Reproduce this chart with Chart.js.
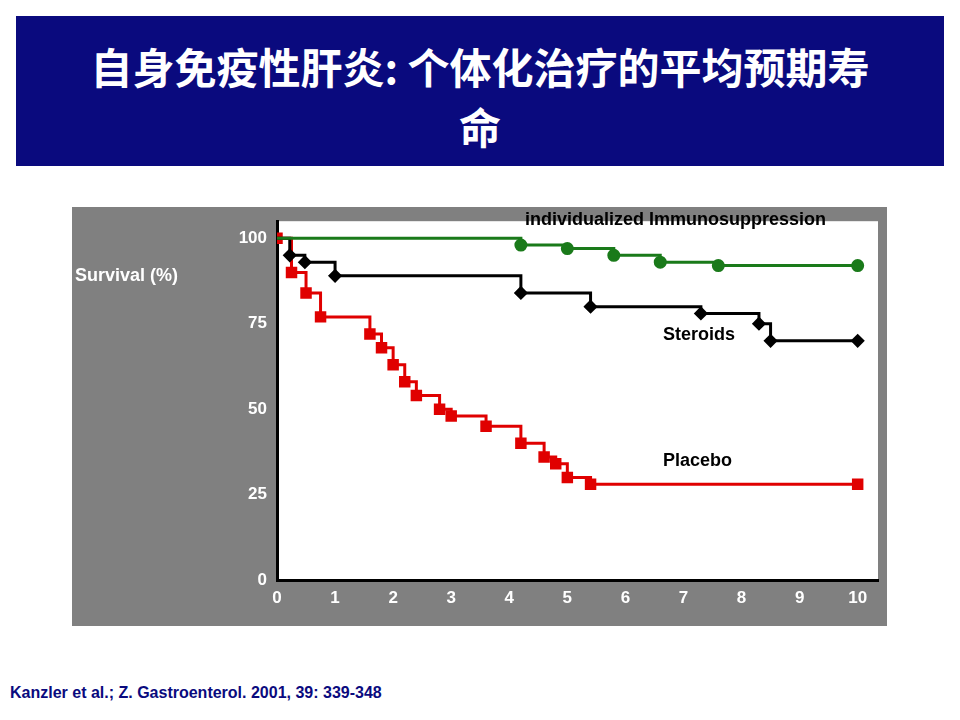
<!DOCTYPE html>
<html><head><meta charset="utf-8">
<script src="https://cdn.jsdelivr.net/npm/chart.js@4"></script>
<style>
body{margin:0;width:960px;height:720px;background:#fff;position:relative;font-family:Arial,"Liberation Sans",sans-serif}
#title{position:absolute;left:16px;top:16px;width:928px;height:150px;background:#0a0a7e;color:#fff;font:bold 42px "Noto Sans CJK SC",sans-serif;text-align:center;line-height:60px;padding-top:20px;box-sizing:border-box}
#box{position:absolute;left:72px;top:207px;width:815px;height:419px}
#cite{position:absolute;left:10px;top:684px;color:#0a0a7e;font:bold 16px Arial,"Liberation Sans",sans-serif}
</style></head><body>
<div id="title">自身免疫性肝炎: 个体化治疗的平均预期寿<br>命</div>
<div id="box"><canvas id="c" width="815" height="419"></canvas></div>
<div id="cite">Kanzler et al.; Z. Gastroenterol. 2001, 39: 339-348</div>
<script>
// individualized immunosuppression
const immX = [0, 4.2, 5, 5.8, 6.6, 7.6, 10];
const immY = [100, 98, 97, 95, 93, 92, 92];
// steroids
const sterX = [0, 0.22, 0.48, 1, 4.2, 5.4, 7.3, 8.3, 8.5, 10];
const sterY = [100, 95, 93, 89, 84, 80, 78, 75, 70, 70];
// placebo
const placX = [0, 0.25, 0.5, 0.75, 1.6, 1.8, 2, 2.2, 2.4, 2.8, 3, 3.6, 4.2, 4.6, 4.8, 5, 5.4, 10];
const placY = [100, 90, 84, 77, 72, 68, 63, 58, 54, 50, 48, 45, 40, 36, 34, 30, 28, 28];
const yTicks = [0, 25, 50, 75, 100];
const xTicks = [0, 1, 2, 3, 4, 5, 6, 7, 8, 9, 10];

const pts = (xs, ys) => xs.map((x, i) => ({x: x, y: ys[i]}));
const radii = xs => xs.map((x, i) => i === 0 ? 0 : 5);

const labels = {
    id: 'labels',
    beforeDraw(chart) {
        let ctx = chart.ctx, a = chart.chartArea;
        ctx.save();
        ctx.fillStyle = '#808080';
        ctx.fillRect(0, 0, chart.width, chart.height);
        ctx.fillStyle = '#fff';
        ctx.fillRect(a.left, a.top, a.right - a.left, a.bottom - a.top);
        ctx.restore();
    },
    afterDraw(chart) {
        let ctx = chart.ctx, xs = chart.scales.x;
        ctx.save();
        ctx.font = 'bold 18px Arial';
        ctx.fillStyle = '#000';
        ctx.textBaseline = 'middle';
        ctx.fillText('individualized Immunosuppression', 453, 13);
        ctx.fillText('Steroids', 591, 128);
        ctx.fillText('Placebo', 591, 254);
        ctx.fillStyle = '#fff';
        ctx.fillText('Survival (%)', 3, 69);
        ctx.textAlign = 'center';
        ctx.fillText('Years after therapy start', (xs.getPixelForValue(0) + xs.getPixelForValue(10)) / 2, 436);
        ctx.restore();
    }
};

new Chart(document.getElementById('c'), {
    type: 'line',
    data: {
        datasets: [
            {data: pts(immX, immY), borderColor: '#1a7a1a', backgroundColor: '#1a7a1a', pointStyle: 'circle', pointRadius: radii(immX), borderWidth: 3, stepped: true},
            {data: pts(sterX, sterY), borderColor: '#000', backgroundColor: '#000', pointStyle: 'rectRot', pointRadius: radii(sterX), borderWidth: 3, stepped: true},
            {data: pts(placX, placY), borderColor: '#e00000', backgroundColor: '#e00000', pointStyle: 'rect', pointRadius: placX.map(() => 6), borderWidth: 3, stepped: true}
        ]
    },
    options: {
        responsive: false,
        animation: false,
        layout: {padding: {top: -12, right: 7, left: 0, bottom: 0}},
        plugins: {legend: {display: false}, tooltip: {enabled: false}},
        scales: {
            x: {
                type: 'linear', min: 0, max: 10.35,
                afterBuildTicks: s => { s.ticks = xTicks.map(v => ({value: v})); },
                afterFit: s => { s.height = 46; },
                grid: {display: false, drawTicks: true, tickLength: 6, tickColor: '#000'},
                border: {color: '#000', width: 3},
                ticks: {color: '#fff', font: {size: 17, weight: 'bold', family: 'Arial'}, padding: 2}
            },
            y: {
                min: 0, max: 105,
                afterBuildTicks: s => { s.ticks = yTicks.map(v => ({value: v})); },
                afterFit: s => { s.width = 205; },
                grid: {display: false, drawTicks: true, tickLength: 6, tickColor: '#fff'},
                border: {color: '#000', width: 3},
                ticks: {color: '#fff', font: {size: 17, weight: 'bold', family: 'Arial'}, padding: 4}
            }
        }
    },
    plugins: [labels]
});
</script>
</body></html>
